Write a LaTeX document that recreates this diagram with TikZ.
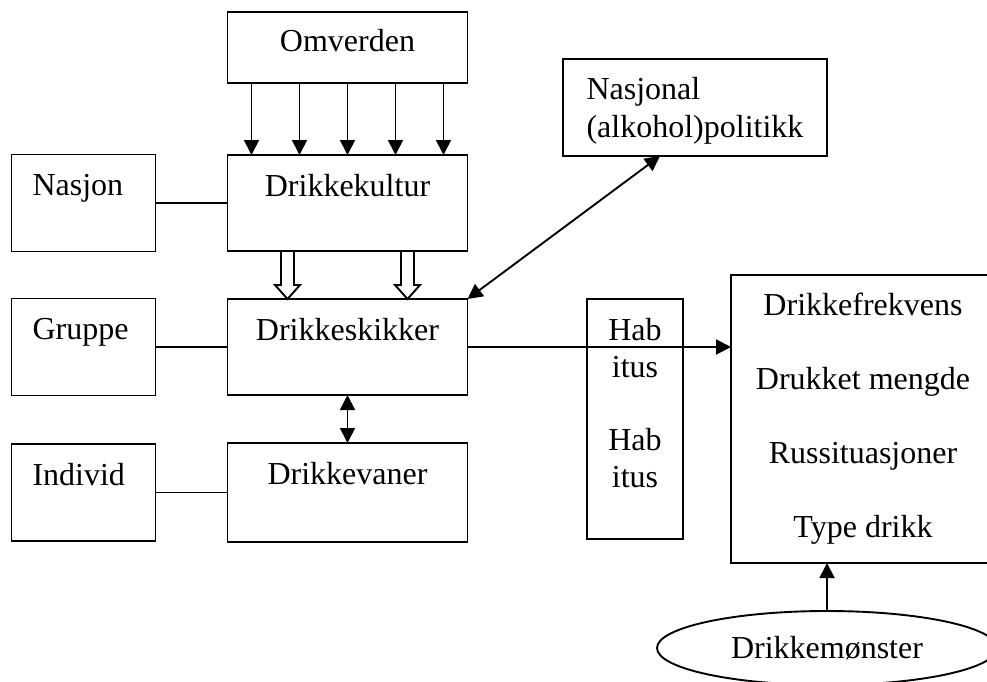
\documentclass[tikz,border=0pt]{standalone}
\usepackage{fontspec}
\setmainfont{Liberation Serif}
\usetikzlibrary{positioning, arrows.meta, shapes.geometric}

\begin{document}
\begin{tikzpicture}
    [x=1pt, y=-1pt,
     font=\fontsize{32pt}{37pt}\selectfont,
     every node/.style={line width=1.9pt, inner sep=0pt, outer sep=0pt},
     boks/.style={draw, align=center, text height=41pt, minimum width=240pt},
     venstre/.style={boks, align=left, text width=102pt, minimum width=144pt, text depth=56pt},
     arr/.style={draw=black, line width=1.9pt, >={Triangle[length=15pt, width=15pt]}, ->},
     lin/.style={draw=black, line width=1.9pt},
     hul/.style={draw=black, line width=1.9pt, fill=white},
    ]
    \useasboundingbox (0,0) rectangle (987,682);

    \node (omverden) [boks, text height=40pt, text depth=31pt] at (347.5,47.5) {Omverden};
    \node (kultur) [boks, text depth=55pt, below=72pt of omverden] {Drikkekultur};
    \node (skikker) [boks, text depth=55pt, below=48pt of kultur] {Drikkeskikker};
    \node (vaner) [boks, text depth=58pt, below=48pt of skikker] {Drikkevaner};

    \node (nasjon) [venstre, left=72pt of kultur] {Nasjon};
    \node (gruppe) [venstre, left=72pt of skikker] {Gruppe};
    \node (individ) [venstre, left=72pt of vaner] {Individ};

    \node (politikk) [boks, align=left, text height=78pt, text depth=19pt, minimum width=264pt] at (695,107.5) {
        Nasjonal\\
        (alkohol)politikk
    };
    \node (habitus) [boks, text height=188pt, text depth=52pt, minimum width=96pt] at (635,419) {
        Hab\\itus\\[36pt]
        Hab\\itus
    };
    \node (atferd) [boks, text height=262pt, text depth=26pt, minimum width=264pt, right=48pt of habitus] {
        Drikkefrekvens\\[37pt]
        Drukket mengde\\[37pt]
        Russituasjoner\\[37pt]
        Type drikk
    };
    \node (moenster) [draw, ellipse, minimum width=340pt, minimum height=74pt] at (827,648) {Drikkemønster};

    \foreach \dx in {-96,-48,0,48,96}
        \draw [arr] ([xshift=\dx pt]omverden.south) -- ([xshift=\dx pt]kultur.north);
    \foreach \dx in {-60,60}
        \draw [hul] ([xshift=\dx pt-6.5pt]kultur.south) -- ++(0,34) -- ++(-6,0) -- ++(12.5,14)
            -- ++(12.5,-14) -- ++(-6,0) -- ++(0,-34) -- cycle;

    \draw [lin] (nasjon) -- (kultur);
    \draw [lin] (gruppe) -- (skikker);
    \draw [lin] (individ) -- (vaner);

    \draw [arr, <->] (skikker.north east) -- ([xshift=-35pt]politikk.south);
    \draw [arr, <->] (skikker) -- (vaner);
    \draw [arr] (skikker.east) -- (skikker.east -| atferd.west);
    \draw [arr] (moenster.north) -- (moenster.north |- atferd.south);

\end{tikzpicture}
\end{document}
